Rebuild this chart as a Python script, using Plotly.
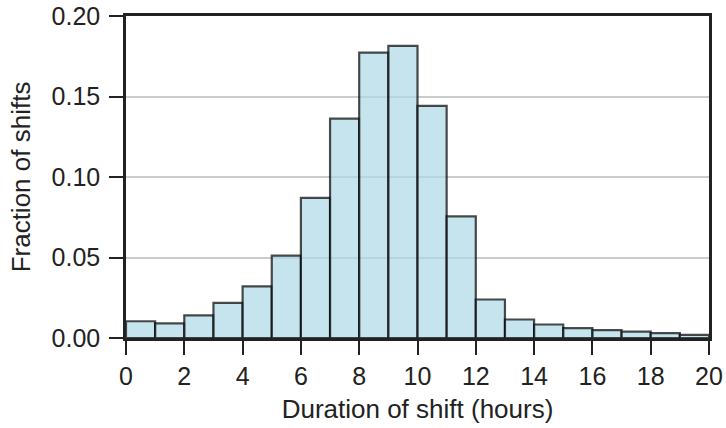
import plotly.graph_objects as go

bin_edges = list(range(0, 21))
fractions = [0.0104, 0.0091, 0.0141, 0.0218, 0.0321, 0.0512, 0.0870, 0.1362,
             0.1773, 0.1815, 0.1442, 0.0755, 0.0239, 0.0115, 0.0084, 0.0061,
             0.0049, 0.0040, 0.0030, 0.0020]
x_ticks = list(range(0, 21, 2))
y_ticks = [0.0, 0.05, 0.10, 0.15, 0.20]

centers = [(bin_edges[i] + bin_edges[i + 1]) / 2 for i in range(len(fractions))]
widths = [bin_edges[i + 1] - bin_edges[i] for i in range(len(fractions))]

fig = go.Figure(go.Bar(
    x=centers, y=fractions, width=widths,
    marker=dict(color="rgba(173,216,230,0.7)",
                line=dict(color="rgba(0,0,0,0.7)", width=2.2)),
))

font_family = "Liberation Sans, Arial, sans-serif"
fig.update_layout(
    width=726, height=428,
    margin=dict(l=126, r=17, t=16, b=90),
    plot_bgcolor="white", paper_bgcolor="white",
    showlegend=False,
    font=dict(family=font_family, size=25, color="#222"),
    xaxis=dict(range=[0, 20], tickvals=x_ticks, ticks="outside", ticklen=14,
               tickwidth=2, tickcolor="#222", showgrid=False, zeroline=False,
               showline=True, linecolor="#222", linewidth=2.5, mirror=True,
               automargin=False,
               title=dict(text="Duration of shift (hours)", standoff=12,
                          font=dict(size=26)),
               tickfont=dict(size=25)),
    yaxis=dict(range=[0, 0.2], tickvals=y_ticks, tickformat=".2f",
               ticks="outside", ticklen=14, tickwidth=2, tickcolor="#222",
               showgrid=True, gridcolor="#cccccc", gridwidth=1.5,
               zeroline=False, showline=True, linecolor="#222", linewidth=2.5,
               mirror=True, automargin=False, ticklabelstandoff=4,
               title=dict(text="Fraction of shifts", standoff=14,
                          font=dict(size=26)),
               tickfont=dict(size=25)),
)

fig.write_html("out.html", config={"displayModeBar": False},
               post_script="document.body.style.margin='0';document.body.style.padding='0';")
